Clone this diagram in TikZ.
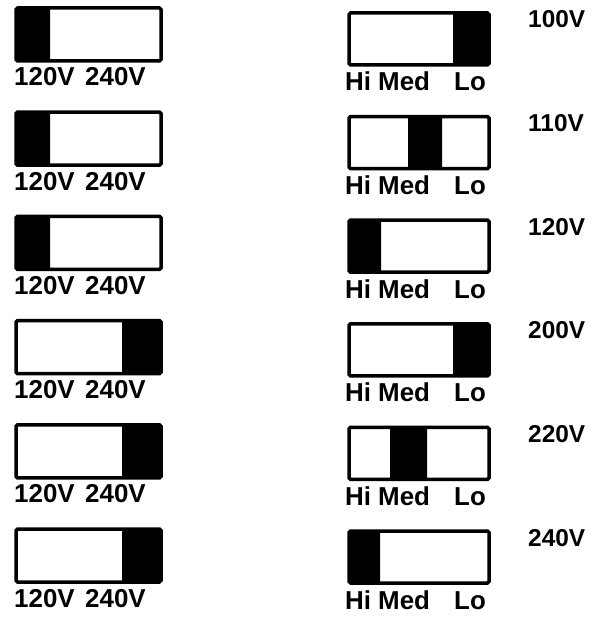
\documentclass[tikz,border=0pt]{standalone}
\usepackage{fontspec}
\setmainfont{Liberation Sans}
\begin{document}
\begin{tikzpicture}[
    x=1bp, y=-1bp,
    switch/.style={draw, line width=3.5bp, rounded corners=1.5bp},
    slider/.style={fill=black, rounded corners=1.5bp},
    word/.style={font=\fontsize{26}{26}\selectfont\bfseries, anchor=base west, inner sep=0pt},
    volt/.style={word, font=\fontsize{24.5}{24.5}\selectfont\bfseries}
  ]
  \useasboundingbox (0,0) rectangle (597,618);
  % left column: 120V / 240V selector
  \foreach \i/\a/\b in {0/16/50, 1/16/50, 2/16/50, 3/122/161, 4/122/161, 5/122/161} {
    \pgfmathsetmacro\rowy{6+104.2*\i}
    \fill[slider] (\a,\rowy+2) rectangle (\b,\rowy+55);
    \draw[switch] (16,\rowy+2) rectangle (161,\rowy+55);
    \node[word] (low\i) at (14,\rowy+80) {120V};
    \node[word] (high\i) at (85,\rowy+80) {240V};
  }
  % right column: Hi / Med / Lo selector
  \foreach \i/\a/\b/\v in {0/453/489/100V, 1/408/442/110V, 2/349/381/120V,
                           3/453/489/200V, 4/390/427/220V, 5/349/380/240V} {
    \pgfmathsetmacro\rowy{11+103.6*\i}
    \fill[slider] (\a,\rowy+2) rectangle (\b,\rowy+54);
    \draw[switch] (349,\rowy+2) rectangle (489,\rowy+54);
    \node[word] (hi\i) at (345,\rowy+80) {Hi};
    \node[word] (med\i) at (378,\rowy+80) {Med};
    \node[word] (lo\i) at (454,\rowy+80) {Lo};
    \node[volt] (volt\i) at (528,\rowy+17) {\v};
  }
\end{tikzpicture}
\end{document}
